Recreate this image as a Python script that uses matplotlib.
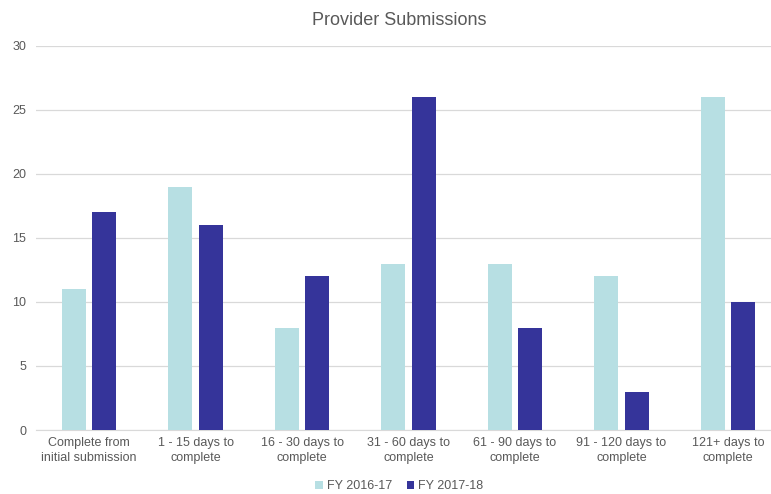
import matplotlib.pyplot as plt
import numpy as np

# provider submissions by time to complete
categories = ["Complete from\ninitial submission", "1 - 15 days to\ncomplete",
              "16 - 30 days to\ncomplete", "31 - 60 days to\ncomplete",
              "61 - 90 days to\ncomplete", "91 - 120 days to\ncomplete",
              "121+ days to\ncomplete"]
fy1617 = [11, 19, 8, 13, 13, 12, 26]
fy1718 = [17, 16, 12, 26, 8, 3, 10]
yticks = [0, 5, 10, 15, 20, 25, 30]

plt.rcParams['font.family'] = ['Liberation Sans', 'DejaVu Sans']
txt = '#595959'

fig = plt.figure(figsize=(7.71, 4.94), dpi=100)
ax = fig.add_axes([36/771, 64/494, 745/771, 384/494])

x = np.arange(len(categories))
w = 0.225
off = 0.143
ax.bar(x - off, fy1617, w, color='#b7dfe3', label='FY 2016-17', zorder=3)
ax.bar(x + off, fy1718, w, color='#35349a', label='FY 2017-18', zorder=3)

ax.set_xlim(-0.5, 6.5)
ax.set_ylim(0, 30)
ax.set_yticks(yticks)
ax.set_xticks(x)
ax.set_xticklabels(categories, fontsize=9, color=txt, linespacing=1.3)
ax.tick_params(axis='y', labelsize=9, labelcolor=txt, length=0, pad=7)
ax.tick_params(axis='x', length=0, pad=5)
ax.grid(axis='y', color='#d9d9d9', linewidth=0.9, zorder=0)
for s in ['top', 'right', 'left']:
    ax.spines[s].set_visible(False)
ax.spines['bottom'].set_color('#d9d9d9')

fig.text(0.518, 0.958, 'Provider Submissions', ha='center', va='center',
         fontsize=13, color=txt)
fig.legend(loc='center', bbox_to_anchor=(0.518, 0.016), ncol=2, frameon=False,
           fontsize=9, labelcolor=txt, handlelength=0.6, handleheight=0.6,
           handletextpad=0.3, columnspacing=1.2)

fig.savefig('out.png', dpi=100)
